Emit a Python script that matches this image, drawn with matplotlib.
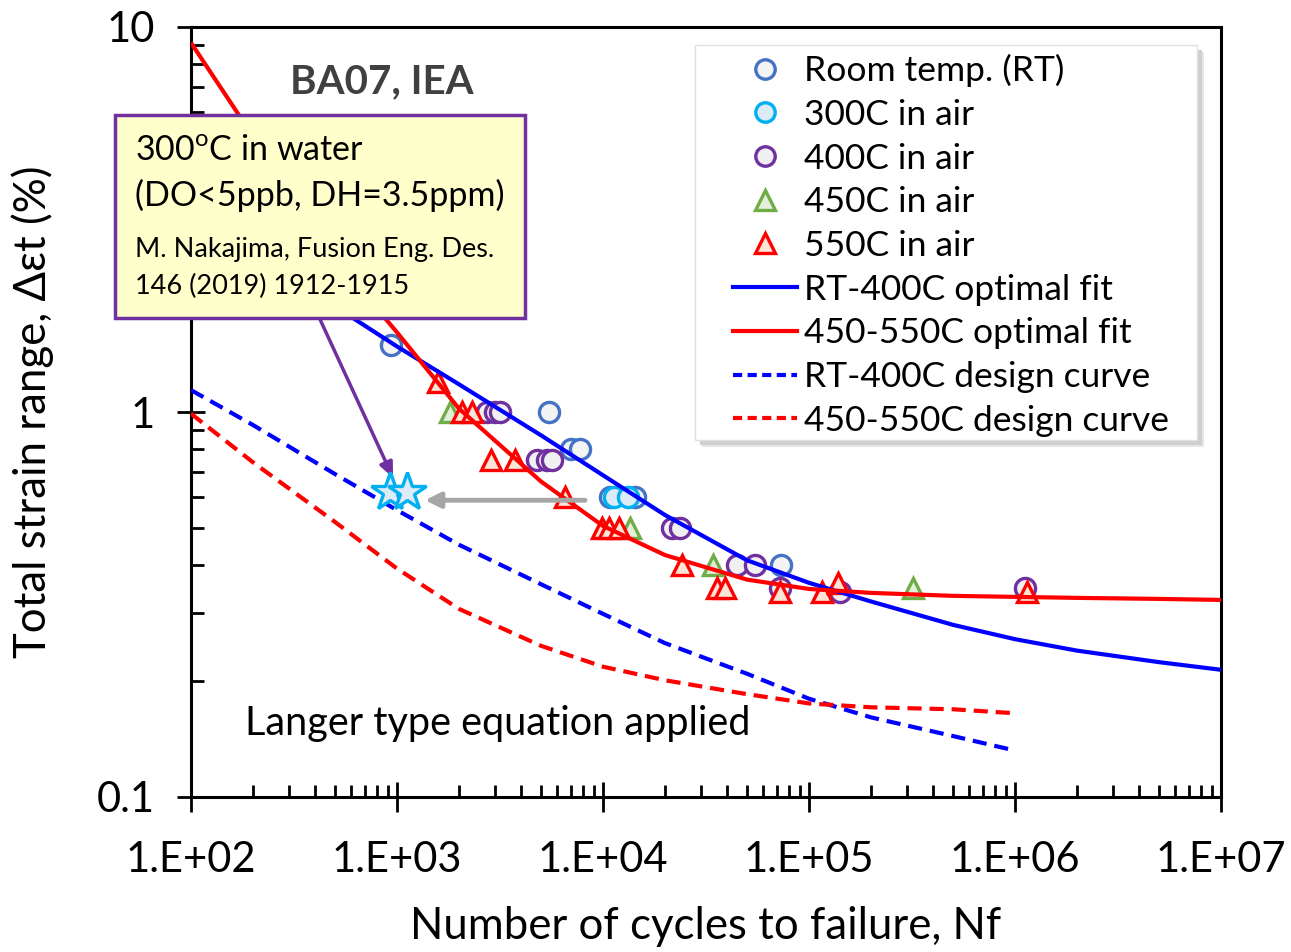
import matplotlib
matplotlib.use("Agg")
import matplotlib.pyplot as plt
from matplotlib.patches import Rectangle
from matplotlib.lines import Line2D
from matplotlib.ticker import FixedLocator, FixedFormatter, LogLocator, NullFormatter

plt.rcParams['font.family'] = ['Lato', 'DejaVu Sans']
plt.rcParams['mathtext.fontset'] = 'custom'
plt.rcParams['mathtext.rm'] = 'Lato'

# ---- measured fatigue data: cycles to failure vs total strain range (%) ----
rt_N = [935, 5470, 7000, 7730, 10800, 14300, 73100]
rt_eps = [1.49, 1.0, 0.80, 0.80, 0.60, 0.60, 0.40]

c300_N = [11300, 13200]
c300_eps = [0.60, 0.60]

c400_N = [2735, 2990, 3165, 4790, 5350, 5650, 21600, 23700, 44700, 54700, 72300, 141000, 1120000]
c400_eps = [1.0, 1.0, 1.0, 0.75, 0.75, 0.75, 0.50, 0.50, 0.40, 0.40, 0.35, 0.34, 0.35]

c450_N = [1808, 13520, 34200, 320000]
c450_eps = [1.0, 0.50, 0.40, 0.35]

c550_N = [1581, 2070, 2310, 2860, 3740, 6550, 9890, 10700, 11970, 24150,
          35700, 39100, 72300, 115600, 138000, 1140000]
c550_eps = [1.20, 1.0, 1.0, 0.75, 0.75, 0.60, 0.50, 0.50, 0.50, 0.40,
            0.35, 0.35, 0.34, 0.34, 0.36, 0.34]

water_N = [925, 1120]
water_eps = [0.62, 0.62]

# ---- Langer-type fit and design curves ----
fit_N = [1e2, 2e2, 5e2, 1e3, 2e3, 5e3, 1e4, 2e4, 5e4, 1e5, 2e5, 5e5, 1e6, 2e6, 5e6, 1e7]
fit_rt400 = [3.6, 2.6, 1.88, 1.48, 1.18, 0.87, 0.685, 0.54, 0.412, 0.36, 0.322, 0.28,
             0.257, 0.240, 0.224, 0.214]
fit_450550 = [9.1, 5.2, 2.5, 1.61, 1.02, 0.66, 0.506, 0.425, 0.367, 0.347, 0.339, 0.333,
              0.331, 0.329, 0.327, 0.325]

design_N = [1e2, 2e2, 5e2, 1e3, 2e3, 5e3, 1e4, 2e4, 5e4, 1e5, 2e5, 5e5, 1e6]
design_rt400 = [1.14, 0.925, 0.69, 0.556, 0.452, 0.357, 0.299, 0.251, 0.209, 0.180,
                0.161, 0.144, 0.132]
design_450550 = [0.99, 0.74, 0.518, 0.392, 0.308, 0.247, 0.218, 0.201, 0.185, 0.175,
                 0.171, 0.169, 0.165]

x_ticks = [1e2, 1e3, 1e4, 1e5, 1e6, 1e7]
x_ticklabels = ['1.E+02', '1.E+03', '1.E+04', '1.E+05', '1.E+06', '1.E+07']
y_ticks = [0.1, 1, 10]
y_ticklabels = ['0.1', '1', '10']

W, H = 1291, 952
L, R, T, B = 191, 1221, 27, 797
fig = plt.figure(figsize=(W / 100, H / 100), dpi=100)
ax = fig.add_axes([L / W, 1 - B / H, (R - L) / W, (B - T) / H])


def fx(px):
    return (px - L) / (R - L)


def fy(py):
    return (B - py) / (B - T)


ax.set_xscale('log')
ax.set_yscale('log')
ax.set_xlim(1e2, 1e7)
ax.set_ylim(0.1, 10)

mk = dict(linestyle='none', markersize=14.5, markeredgewidth=2.4, zorder=3, clip_on=False)
ax.plot(rt_N, rt_eps, marker='o', mec='#4472C4', mfc='#F4F4F4', **mk)
ax.plot(c300_N, c300_eps, marker='o', mec='#00B0F0', mfc='#DDEBF7', **mk)
ax.plot(c400_N, c400_eps, marker='o', mec='#7030A0', mfc='#F0F0F0', **mk)
ax.plot(c450_N, c450_eps, marker='^', mec='#70AD47', mfc='#E2EFDA', **mk)
ax.plot(c550_N, c550_eps, marker='^', mec='#FF0000', mfc='#FCE4D6', **mk)

ax.plot(fit_N, fit_rt400, color='#0000FF', lw=3, zorder=4, solid_capstyle='butt')
ax.plot(fit_N, fit_450550, color='#FF0000', lw=3, zorder=4, solid_capstyle='butt')
ax.plot(design_N, design_rt400, color='#0000FF', lw=3, dashes=(3.4, 1.9), zorder=4)
ax.plot(design_N, design_450550, color='#FF0000', lw=3, dashes=(3.4, 1.9), zorder=4)

ax.plot(water_N, water_eps, linestyle='none', marker='*', markersize=29,
        mec='#00B0F0', mfc='#DDEBF7', markeredgewidth=2.4, zorder=6)

# gray arrow: shift of in-water life relative to air data
ax.annotate('', xy=(1368, 0.59), xytext=(8180, 0.59),
            arrowprops=dict(arrowstyle='-|>,head_length=0.9,head_width=0.45',
                            color='#A6A6A6', lw=3.5, shrinkA=0, shrinkB=0), zorder=5)
# purple arrow from the note box to the in-water points
ax.annotate('', xy=(957, 0.675), xytext=(423, 1.74),
            arrowprops=dict(arrowstyle='-|>,head_length=0.9,head_width=0.4',
                            color='#7030A0', lw=2.5, shrinkA=0, shrinkB=0), zorder=5)

# axes frame and ticks
for s in ax.spines.values():
    s.set_linewidth(2.2)
    s.set_color('black')
ax.xaxis.set_major_locator(FixedLocator(x_ticks))
ax.xaxis.set_major_formatter(FixedFormatter(x_ticklabels))
ax.xaxis.set_minor_locator(LogLocator(base=10, subs=range(2, 10), numticks=20))
ax.xaxis.set_minor_formatter(NullFormatter())
ax.yaxis.set_major_locator(FixedLocator(y_ticks))
ax.yaxis.set_major_formatter(FixedFormatter(y_ticklabels))
ax.yaxis.set_minor_locator(LogLocator(base=10, subs=range(2, 10), numticks=20))
ax.yaxis.set_minor_formatter(NullFormatter())
ax.tick_params(which='major', direction='inout', length=22, width=2, labelsize=30,
               top=False, right=False)
ax.tick_params(axis='x', which='major', pad=21)
ax.tick_params(axis='y', which='major', pad=16, length=20)
ax.tick_params(which='minor', direction='in', length=9, width=2, top=False, right=False)

ax.set_xlabel('Number of cycles to failure, Nf', fontsize=31.5, labelpad=19)
ax.set_ylabel('Total strain range, Δεt (%)', fontsize=31.5, labelpad=31)

ax.text(fx(382), fy(82), 'BA07, IEA', transform=ax.transAxes, fontsize=29,
        fontweight='bold', color='#404040', ha='center', va='center')
ax.text(fx(498), fy(723), 'Langer type equation applied', transform=ax.transAxes,
        fontsize=28.5, ha='center', va='center')

# note box with the in-water test conditions and reference
box = Rectangle((fx(115), fy(318)), fx(525) - fx(115), fy(115) - fy(318),
                transform=ax.transAxes, facecolor='#FFFFCC', edgecolor='#7030A0',
                lw=2.5, zorder=10, clip_on=False)
ax.add_patch(box)
ax.text(fx(135), fy(150), '300$^{\\mathrm{o}}$C in water', transform=ax.transAxes,
        fontsize=24.5, va='center', ha='left', zorder=11)
ax.text(fx(135), fy(195), '(DO<5ppb, DH=3.5ppm)', transform=ax.transAxes,
        fontsize=24.5, va='center', ha='left', zorder=11)
ax.text(fx(135), fy(250), 'M. Nakajima, Fusion Eng. Des.', transform=ax.transAxes,
        fontsize=19.5, va='center', ha='left', zorder=11)
ax.text(fx(135), fy(286), '146 (2019) 1912-1915', transform=ax.transAxes,
        fontsize=19.5, va='center', ha='left', zorder=11)

# legend panel with soft shadow
for off, col in [(7, '#E6E6E6'), (5, '#CFCFCF')]:
    ax.add_patch(Rectangle((fx(695 + off), fy(440 + off)), fx(1197) - fx(695), fy(45) - fy(440),
                           transform=ax.transAxes, facecolor=col, edgecolor='none',
                           zorder=7, clip_on=False))
ax.add_patch(Rectangle((fx(695), fy(440)), fx(1197) - fx(695), fy(45) - fy(440),
                       transform=ax.transAxes, facecolor='white', edgecolor='#E0E0E0',
                       lw=1, zorder=8, clip_on=False))

lmk = dict(linestyle='none', markersize=14, markeredgewidth=2.4)
handles = [
    Line2D([], [], marker='o', mec='#4472C4', mfc='#F4F4F4', **lmk),
    Line2D([], [], marker='o', mec='#00B0F0', mfc='#DDEBF7', **lmk),
    Line2D([], [], marker='o', mec='#7030A0', mfc='#F0F0F0', **lmk),
    Line2D([], [], marker='^', mec='#70AD47', mfc='#E2EFDA', **lmk),
    Line2D([], [], marker='^', mec='#FF0000', mfc='#FCE4D6', **lmk),
    Line2D([], [], color='#0000FF', lw=3),
    Line2D([], [], color='#FF0000', lw=3),
    Line2D([], [], color='#0000FF', lw=3, dashes=(2.2, 1.3)),
    Line2D([], [], color='#FF0000', lw=3, dashes=(2.2, 1.3)),
]
labels = ['Room temp. (RT)', '300C in air', '400C in air', '450C in air', '550C in air',
          'RT-400C optimal fit', '450-550C optimal fit', 'RT-400C design curve',
          '450-550C design curve']
leg = ax.legend(handles, labels, loc='upper left', bbox_to_anchor=(fx(733), fy(54)),
                frameon=False, fontsize=25.5, handlelength=1.8, handletextpad=0.2,
                labelspacing=0.33, borderpad=0, borderaxespad=0, numpoints=1)
leg.set_zorder(9)

fig.savefig('out.png', dpi=100)
